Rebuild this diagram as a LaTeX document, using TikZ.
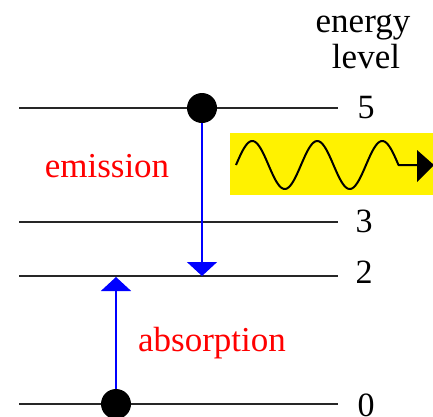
\documentclass[tikz,border=0pt]{standalone}
\usepackage{fontspec}
\setmainfont{Liberation Serif}
\usetikzlibrary{arrows.meta}
\begin{document}
\begin{tikzpicture}[x=1pt,y=-1pt,
  level/.style={line width=2pt,draw=black!85},
  dot/.style={circle,fill=black,inner sep=0pt,minimum size=30pt},
  trans/.style={blue,line width=1.6pt,-{Triangle[width=30pt,length=14pt]}},
  lbl/.style={anchor=base,font=\fontsize{35}{38}\selectfont,inner sep=0pt},
  num/.style={anchor=base,font=\fontsize{34}{38}\selectfont,inner sep=0pt},
  redlbl/.style={lbl,text=red}]
\useasboundingbox (0,0) rectangle (433,416);
% energy levels
\coordinate (l5a) at (19,108); \coordinate (l5b) at (338,108);
\coordinate (l3a) at (19,222); \coordinate (l3b) at (338,222);
\coordinate (l2a) at (19,276); \coordinate (l2b) at (338,276);
\coordinate (l0a) at (19,404); \coordinate (l0b) at (338,404);
\draw[level] (l5a) -- (l5b);
\draw[level] (l3a) -- (l3b);
\draw[level] (l2a) -- (l2b);
\draw[level] (l0a) -- (l0b);
% labels
\node[lbl] (t1) at (363,32) {energy};
\node[lbl] (t2) at (366,68) {level};
\node[num] (n5) at (366,118) {5};
\node[num] (n3) at (364,232) {3};
\node[num] (n2) at (364,283) {2};
\node[num] (n0) at (366,416) {0};
\node[redlbl] (em) at (107,177) {emission};
\node[redlbl] (ab) at (212,351) {absorption};
% photon
\fill[yellow] (230,133) rectangle (433,195);
\draw[line width=2pt,line join=round] plot[domain=236:398.5,samples=120,smooth] (\x,{165-24*sin((\x-236)/65*360)}) -- (417,165);
\fill (417,150) -- (434,165) -- (417,182) -- cycle;
% electrons and transitions
\coordinate (e2) at (202,276);
\coordinate (a2) at (116,277);
\node[dot] (d5) at (202,108) {};
\node[dot] (d0) at (116,404) {};
\draw[trans] (d5) -- (e2);
\draw[trans] (d0) -- (a2);
\end{tikzpicture}
\end{document}
